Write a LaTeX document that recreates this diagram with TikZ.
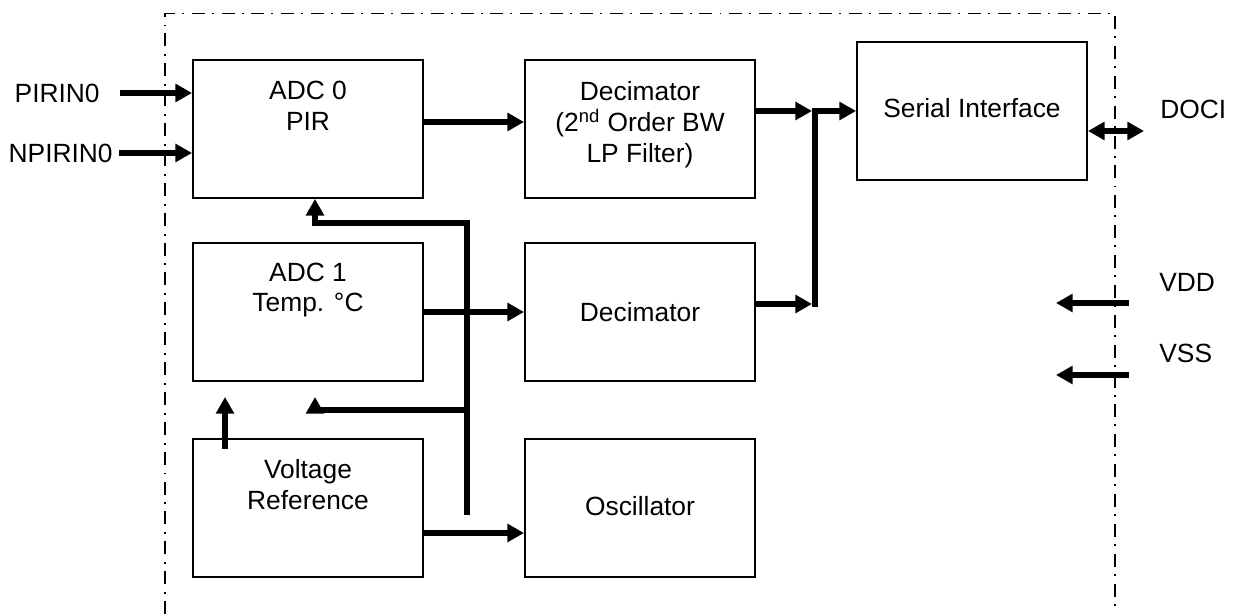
\documentclass[tikz,border=0pt]{standalone}
\usepackage{fontspec}
\setmainfont{Liberation Sans}
\usetikzlibrary{arrows.meta,positioning}

\tikzset{
    blk/.style={draw, line width=1.1pt, minimum width=4.6cm, minimum height=2.76cm, inner sep=0pt},
    txt/.style={font=\fontsize{15}{17.6}\selectfont, align=center, inner sep=0pt},
    pinlbl/.style={font=\fontsize{15}{17.6}\selectfont, inner sep=0pt},
    arr/.style={line width=3.4pt, -{Triangle[length=9.5pt,width=10pt]}},
    biarr/.style={line width=3.4pt, {Triangle[length=9.5pt,width=10pt]}-{Triangle[length=9.5pt,width=10pt]}},
    wire/.style={line width=3.4pt},
    border/.style={line width=0.7pt, dash pattern=on 7.4pt off 4pt on 1.1pt off 4.5pt}
}

\begin{document}
\begin{tikzpicture}[x=0.02cm, y=-0.02cm]
                \useasboundingbox (0,0) rectangle (1234,614);

                % chip outline
                \draw[border] (165,614) -- (165,13.5) -- (1115,13.5) -- (1115,614);

                % blocks
                \node[blk] (adc0) at (308,129) {};
                \node[blk] (dec0) at (640,129) {};
                \node[blk] (serial) at (972,111) {};
                \node[blk] (adc1) at (308,312) {};
                \node[blk] (dec1) at (640,312) {};
                \node[blk] (vref) at (308,508) {};
                \node[blk] (osc) at (640,508) {};

                \node[txt] (adc0t) at ([yshift=0.46cm]adc0.center) {ADC 0\\PIR};
                \node[txt] (dec0t) at ([yshift=0.09cm]dec0.center) {Decimator\\(2\textsuperscript{nd} Order BW\\LP Filter)};
                \node[txt] (serialt) at ([yshift=0.06cm]serial.center) {Serial Interface};
                \node[txt] (adc1t) at ([yshift=0.44cm]adc1.center) {ADC 1\\Temp. °C};
                \node[txt] (dec1t) at (dec1.center) {Decimator};
                \node[txt] (vreft) at ([yshift=0.47cm]vref.center) {Voltage\\Reference};
                \node[txt] (osct) at ([yshift=0.04cm]osc.center) {Oscillator};

                % pins
                \node[pinlbl, anchor=east] (pirin) at (100,93) {PIRIN0};
                \node[pinlbl, anchor=east] (npirin) at (113,153) {NPIRIN0};
                \node[pinlbl, anchor=west] (doci) at (1160,109) {DOCI};
                \node[pinlbl, anchor=west] (vdd) at (1159,282) {VDD};
                \node[pinlbl, anchor=west] (vss) at (1159,353) {VSS};

                \coordinate (jtop) at (815,111);
                \coordinate (jbot) at (815,304);
                \coordinate (bustop) at (467,223);
                \coordinate (busmid) at (467,410);
                \coordinate (busbot) at (467,515);
                \coordinate (tipa) at (315,397);
                \coordinate (tipb) at (225,397);
                \coordinate (docitip) at (1144,131);
                \coordinate (vddin) at (1129,303);
                \coordinate (vddtip) at (1056,303);
                \coordinate (vssin) at (1129,375);
                \coordinate (vsstip) at (1056,375);

                % inputs
                \draw[arr, shorten <=0.4cm] (pirin.east) -- (adc0.west |- pirin.east);
                \draw[arr, shorten <=0.12cm] (npirin.east) -- (adc0.west |- npirin.east);

                % data path
                \draw[arr] ([yshift=0.14cm]adc0.east) -- ([yshift=0.14cm]dec0.west);
                \draw[arr] (adc1) -- (dec1);
                \draw[arr, shorten >=1.7pt] (dec0.east |- jtop) -- (jtop);
                \draw[arr, shorten >=1.7pt] (dec1.east |- jbot) -- (jbot);
                \draw[wire, line cap=rect] (jbot) -- (jtop);
                \draw[arr] (jtop) -- (serial.west |- jtop);
                \draw[biarr] (serial.east |- docitip) -- (docitip);

                % reference bus
                \draw[arr] (busbot) -- (bustop) -| ([xshift=0.14cm]adc0.south);
                \draw[arr] (busmid) -| (tipa);
                \draw[arr] ([yshift=-0.22cm]vref.north -| tipb) -- (tipb);
                \draw[arr] ([yshift=-0.5cm]vref.east) -- ([yshift=-0.5cm]osc.west);

                % supplies
                \draw[arr] (vddin) -- (vddtip);
                \draw[arr] (vssin) -- (vsstip);
\end{tikzpicture}
\end{document}
